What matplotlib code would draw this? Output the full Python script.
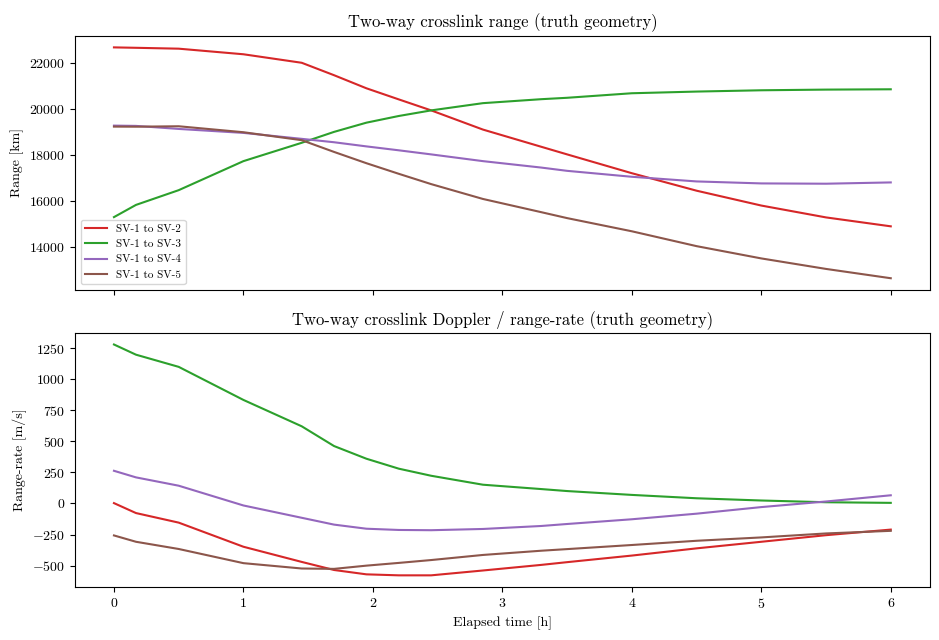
import matplotlib
matplotlib.use("Agg")
import matplotlib.pyplot as plt

plt.rcParams['font.family'] = 'serif'
plt.rcParams['font.serif'] = ['cmr10']
plt.rcParams['mathtext.fontset'] = 'cm'
plt.rcParams['axes.formatter.use_mathtext'] = True
plt.rcParams['axes.unicode_minus'] = True

# elapsed time [h]
t = [0, 0.17, 0.5, 1.0, 1.45, 1.7, 1.95, 2.2, 2.45, 2.85, 3.3, 3.5, 4.0, 4.5, 5.0, 5.5, 6.0]

labels = ['SV-1 to SV-2', 'SV-1 to SV-3', 'SV-1 to SV-4', 'SV-1 to SV-5']
colors = ['tab:red', 'tab:green', 'tab:purple', 'tab:brown']

# range [km]
range_sv2 = [22658, 22640, 22602, 22359, 21990, 21450, 20882, 20400, 19923, 19090, 18344, 18013,
             17196, 16437, 15792, 15277, 14890]
range_sv3 = [15290, 15820, 16460, 17720, 18516, 18990, 19390, 19680, 19923, 20237, 20409, 20470,
             20667, 20740, 20796, 20825, 20839]
range_sv4 = [19262, 19250, 19118, 18946, 18688, 18540, 18360, 18190, 18013, 17720, 17441, 17299,
             17041, 16839, 16753, 16740, 16796]
range_sv5 = [19219, 19215, 19234, 18975, 18630, 18120, 17630, 17170, 16723, 16078, 15505, 15247,
             14675, 14030, 13497, 13041, 12637]

# range-rate [m/s]
rr_sv2 = [3, -77, -154, -348, -470, -535, -570, -578, -578, -539, -494, -472,
          -419, -361, -308, -255, -210]
rr_sv3 = [1279, 1197, 1099, 833, 621, 462, 360, 280, 223, 151, 116, 100,
          69, 42, 24, 10, 5]
rr_sv4 = [263, 210, 143, -16, -115, -170, -203, -213, -215, -205, -181, -165,
          -127, -82, -29, 16, 66]
rr_sv5 = [-257, -308, -366, -480, -523, -526, -500, -478, -455, -414, -380, -367,
          -334, -300, -273, -241, -220]

ranges = [range_sv2, range_sv3, range_sv4, range_sv5]
rates = [rr_sv2, rr_sv3, rr_sv4, rr_sv5]

fig, (ax1, ax2) = plt.subplots(2, 1, sharex=True, figsize=(9.39, 6.4), dpi=100)
fig.subplots_adjust(left=0.08, right=0.99, top=0.944, bottom=0.083, hspace=0.17)

for r, lab, c in zip(ranges, labels, colors):
    ax1.plot(t, r, color=c, label=lab, lw=1.5)
ax1.set_title('Two-way crosslink range (truth geometry)', fontsize=12)
ax1.set_ylabel('Range [km]', fontsize=10)
ax1.set_yticks([14000, 16000, 18000, 20000, 22000])
ax1.legend(loc='lower left', fontsize=8)

for r, lab, c in zip(rates, labels, colors):
    ax2.plot(t, r, color=c, label=lab, lw=1.5)
ax2.set_title('Two-way crosslink Doppler / range-rate (truth geometry)', fontsize=12)
ax2.set_ylabel('Range-rate [m/s]', fontsize=10)
ax2.set_xlabel('Elapsed time [h]', fontsize=10)
ax2.set_yticks([-500, -250, 0, 250, 500, 750, 1000, 1250])

plt.savefig('out.png')
